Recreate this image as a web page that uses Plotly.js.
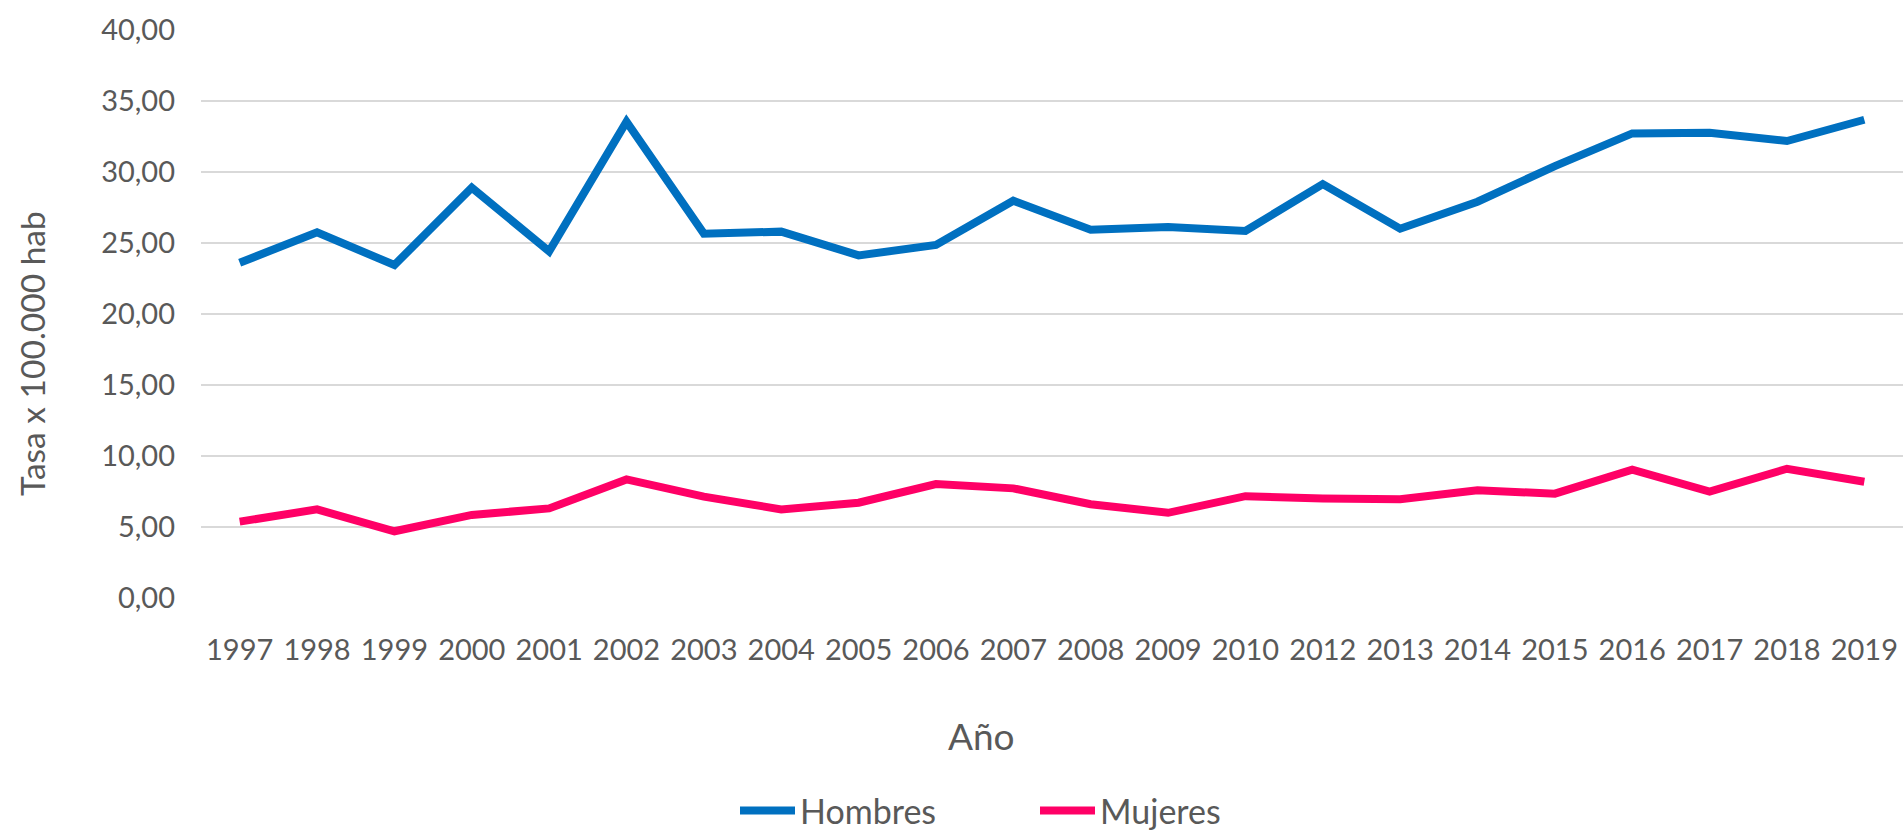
<!DOCTYPE html>
<html>
<head>
<meta charset="utf-8">
<script src="https://cdn.plot.ly/plotly-3.0.1.min.js"></script>
<style>
  html, body { margin: 0; padding: 0; background: #fff; }
  #grafico { width: 1904px; height: 830px; }
</style>
</head>
<body>
<div id="grafico"></div>
<script>
// datos (tasa x 100.000 hab)
var anios = ['1997', '1998', '1999', '2000', '2001', '2002', '2003', '2004', '2005', '2006', '2007',
             '2008', '2009', '2010', '2012', '2013', '2014', '2015', '2016', '2017', '2018', '2019'];
var hombres = [23.61, 25.75, 23.45, 28.90, 24.41, 33.54, 25.66, 25.80, 24.13, 24.86, 27.98,
               25.94, 26.13, 25.85, 29.15, 26.01, 27.91, 30.42, 32.72, 32.77, 32.18, 33.68];
var mujeres = [5.38, 6.24, 4.70, 5.85, 6.31, 8.35, 7.14, 6.24, 6.71, 8.02, 7.72,
               6.60, 6.00, 7.17, 7.00, 6.95, 7.58, 7.35, 9.03, 7.49, 9.10, 8.19];
var ticksY = [0, 5, 10, 15, 20, 25, 30, 35, 40];

var gris = '#595959';
var fuente = 'Lato, "Open Sans", sans-serif';

var dados = [
    {x: anios, y: hombres, name: 'Hombres', mode: 'lines', line: {color: '#0070C0', width: 8}},
    {x: anios, y: mujeres, name: 'Mujeres', mode: 'lines', line: {color: '#FF0066', width: 8}}
];

var layout = {
    width: 1904,
    height: 830,
    margin: {l: 201, r: 1, t: 30, b: 232},
    paper_bgcolor: '#fff',
    plot_bgcolor: '#fff',
    separators: ',.',
    font: {family: fuente, size: 29, color: gris},
    xaxis: {
        type: 'category',
        range: [-0.5, anios.length - 0.5],
        showgrid: false,
        zeroline: false,
        showline: false,
        ticks: '',
        ticklabelstandoff: 32,
        tickfont: {size: 29, color: gris}
    },
    yaxis: {
        range: [0, 40],
        tickvals: ticksY,
        tickformat: '.2f',
        showgrid: true,
        gridcolor: '#D9D9D9',
        gridwidth: 1.5,
        zeroline: false,
        showline: false,
        ticks: '',
        ticklabelstandoff: 25,
        tickfont: {size: 29, color: gris}
    },
    showlegend: true,
    legend: {
        orientation: 'h',
        xref: 'paper',
        yref: 'container',
        x: (735 - 201) / 1702,
        xanchor: 'left',
        y: 1 - 811 / 830,
        yanchor: 'middle',
        itemwidth: 55,
        entrywidth: 230,
        entrywidthmode: 'pixels',
        font: {size: 34, color: gris},
        bgcolor: 'rgba(0,0,0,0)'
    },
    annotations: [
        {text: 'Tasa x 100.000 hab', xref: 'paper', yref: 'paper', x: (32 - 201) / 1702, y: (598 - 354) / 568,
         xanchor: 'center', yanchor: 'middle', textangle: -90, showarrow: false, font: {size: 33.5, color: gris}},
        {text: 'Año', xref: 'paper', yref: 'paper', x: (981 - 201) / 1702, y: (598 - 735) / 568,
         xanchor: 'center', yanchor: 'middle', showarrow: false, font: {size: 37, color: gris}}
    ]
};

Plotly.newPlot('grafico', dados, layout, {displayModeBar: false});
</script>
</body>
</html>
